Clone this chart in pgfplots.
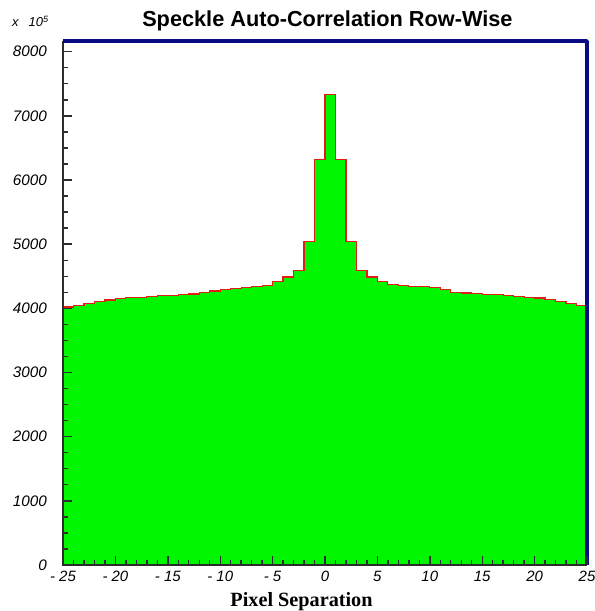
\documentclass[border=0pt]{standalone}
\usepackage{pgfplots}
\pgfplotsset{compat=1.18}
\usepackage{fontspec}
\setmainfont{Liberation Sans}
\newfontfamily\xlabfont{Liberation Serif}
\definecolor{histgreen}{RGB}{0,245,0}
\definecolor{histred}{RGB}{225,30,20}
\definecolor{framenavy}{RGB}{10,10,130}
\definecolor{axisgray}{RGB}{45,45,45}
\begin{document}
\begin{tikzpicture}
\path[use as bounding box] (-63bp,-46bp) rectangle (532bp,565bp);
\begin{axis}[
  at={(0,0)}, anchor=south west,
  scale only axis, width=524bp, height=524bp,
  xmin=-25, xmax=25, ymin=0, ymax=8167,
  axis line style={draw=none},
  axis on top,
  tick align=inside,
  xtick pos=bottom, ytick pos=left,
  xtick={-25,-20,...,25},
  xticklabels={- 25,- 20,- 15,- 10,- 5,0,5,10,15,20,25},
  ytick={0,1000,...,8000},
  yticklabels={0,1000,2000,3000,4000,5000,6000,7000,8000},
  minor x tick num=4, minor y tick num=3,
  major tick length=9bp, minor tick length=4.5bp,
  every tick/.style={axisgray, line width=1.4bp},
  xticklabel style={font=\fontsize{15}{18}\selectfont\itshape, anchor=base, inner sep=0pt, yshift=-16.7bp},
  yticklabel style={font=\fontsize{15.3}{18}\selectfont\itshape, anchor=east, inner sep=0pt, xshift=-16bp},
  clip=false,
]
\addplot[const plot, fill=histgreen, draw=none] coordinates {
(-25,4020) (-24,4050) (-23,4080) (-22,4110) (-21,4130) (-20,4150) (-19,4165) (-18,4175) (-17,4185) (-16,4195)
(-15,4205) (-14,4215) (-13,4225) (-12,4250) (-11,4270) (-10,4290) (-9,4310) (-8,4325) (-7,4340) (-6,4350)
(-5,4420) (-4,4490) (-3,4590) (-2,5040) (-1,6320) (0,7330) (1,6320) (2,5040) (3,4590) (4,4490)
(5,4420) (6,4370) (7,4355) (8,4345) (9,4335) (10,4320) (11,4300) (12,4250) (13,4240) (14,4230)
(15,4220) (16,4210) (17,4195) (18,4180) (19,4170) (20,4160) (21,4140) (22,4110) (23,4080) (24,4050) (25,4050)
} \closedcycle;
\addplot[const plot, draw=histred, line width=1.2bp] coordinates {
(-25,4020) (-24,4050) (-23,4080) (-22,4110) (-21,4130) (-20,4150) (-19,4165) (-18,4175) (-17,4185) (-16,4195)
(-15,4205) (-14,4215) (-13,4225) (-12,4250) (-11,4270) (-10,4290) (-9,4310) (-8,4325) (-7,4340) (-6,4350)
(-5,4420) (-4,4490) (-3,4590) (-2,5040) (-1,6320) (0,7330) (1,6320) (2,5040) (3,4590) (4,4490)
(5,4420) (6,4370) (7,4355) (8,4345) (9,4335) (10,4320) (11,4300) (12,4250) (13,4240) (14,4230)
(15,4220) (16,4210) (17,4195) (18,4180) (19,4170) (20,4160) (21,4140) (22,4110) (23,4080) (24,4050) (25,4050)
};
\draw[axisgray, line width=1.6bp] (rel axis cs:0,1) -- (rel axis cs:0,0) -- (rel axis cs:1,0);
\draw[framenavy, line width=3.8bp, line join=round] (rel axis cs:0,1) -- (rel axis cs:1,1) -- (rel axis cs:1,0);
\end{axis}
\node[anchor=base, font=\fontsize{21.8}{24}\selectfont\bfseries] at (264.4bp,538.3bp) {Speckle Auto-Correlation Row-Wise};
\node[anchor=base west, inner sep=0pt, font=\fontsize{13}{15}\selectfont\itshape] at (-51bp,538bp) {x\hspace{10bp}10\textsuperscript{5}};
\node[anchor=base, font=\xlabfont\bfseries\fontsize{20.3}{23}\selectfont] at (238.5bp,-41bp) {Pixel Separation};
\end{tikzpicture}
\end{document}
